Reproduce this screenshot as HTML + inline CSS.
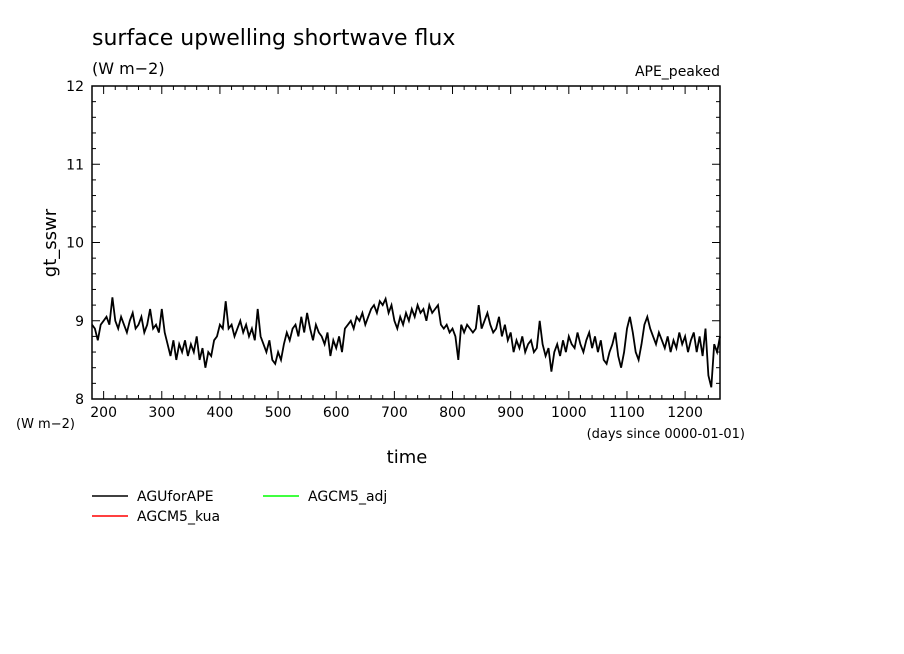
<!DOCTYPE html>
<html><head><meta charset="utf-8"><style>
body{margin:0;background:#fff}
svg{display:block;font-family:"DejaVu Sans","Liberation Sans",sans-serif}
</style></head><body>
<svg id="chart" width="904" height="654" xmlns="http://www.w3.org/2000/svg">
<rect width="904" height="654" fill="#fff"/>
<text x="92" y="45" font-size="22" fill="#000">surface upwelling shortwave flux</text>
<text x="92" y="74" font-size="16" fill="#000">(W m−2)</text>
<text x="720" y="76" font-size="14" text-anchor="end" fill="#000">APE_peaked</text>
<g id="axes"></g>
<g id="series"></g>
<text transform="translate(56,243) rotate(-90)" font-size="18" text-anchor="middle" fill="#000">gt_sswr</text>
<text x="16" y="428" font-size="13" fill="#000">(W m−2)</text>
<text x="407" y="463" font-size="18" text-anchor="middle" fill="#000">time</text>
<text x="745" y="438" font-size="13" text-anchor="end" fill="#000">(days since 0000-01-01)</text>
<g font-size="14">
<line x1="92" y1="496" x2="128" y2="496" stroke="#000" stroke-width="1.5"/>
<text x="137" y="501" fill="#000">AGUforAPE</text>
<line x1="92" y1="516" x2="128" y2="516" stroke="#f00" stroke-width="1.5"/>
<text x="137" y="521" fill="#000">AGCM5_kua</text>
<line x1="263" y1="496" x2="299" y2="496" stroke="#0f0" stroke-width="1.5"/>
<text x="308" y="501" fill="#000">AGCM5_adj</text>
</g>
</svg>
<script>
const xTicks=[200,300,400,500,600,700,800,900,1000,1100,1200];
const yTicks=[8,9,10,11,12];
const startDay=180, stepDays=5;
const values=[8.95,8.9,8.75,8.95,9.0,9.05,8.95,9.3,
9.0,8.9,9.05,8.95,8.85,9.0,9.1,8.9,8.95,9.05,8.85,8.95,9.15,8.9,8.95,8.85,
9.15,8.85,
8.7,8.55,8.75,8.5,8.7,8.6,8.75,8.55,8.7,8.6,8.8,8.5,8.65,8.4,8.6,8.55,8.75,
8.8,8.95,8.9,
9.25,
8.9,8.95,8.8,8.9,9.0,8.85,8.95,8.8,8.9,8.75,9.15,
8.8,8.7,8.6,8.75,8.5,8.45,8.6,8.5,8.7,
8.85,8.75,8.9,8.95,8.8,9.05,8.85,9.1,8.9,8.75,
8.95,8.85,8.8,8.7,8.85,8.55,8.75,8.65,8.8,8.6,8.9,8.95,
9.0,8.9,9.05,9.0,9.1,8.95,9.05,9.15,9.2,9.1,9.25,9.2,9.28,9.1,9.2,9.0,
8.9,9.05,8.95,9.1,9.0,9.15,9.05,9.2,9.1,9.15,9.0,9.2,9.1,9.15,9.2,8.95,
8.9,8.95,8.85,8.9,8.8,8.5,8.95,8.85,8.95,8.9,8.85,8.9,9.2,
8.9,9.0,9.1,8.95,8.85,8.9,9.05,8.8,8.95,8.75,8.85,
8.6,8.75,8.65,8.8,8.6,8.7,8.75,8.6,8.65,9.0,
8.7,8.55,8.65,8.35,8.6,8.7,8.55,8.75,8.6,8.8,
8.7,8.65,8.85,8.7,8.6,8.75,8.85,8.65,8.8,8.6,8.75,8.5,8.45,8.6,8.7,8.85,
8.55,8.4,8.6,8.9,9.05,
8.85,8.6,8.5,8.7,8.95,9.05,8.9,8.8,8.7,
8.85,8.75,8.65,8.8,8.6,8.75,8.65,8.85,8.7,8.8,8.6,8.75,8.85,
8.6,8.8,8.55,8.9,8.3,8.15,8.7,8.6,8.8];
const X0=92,X1=720,Y0=399,Y1=86,D0=180,D1=1260,V0=8,V1=12;
const xs=d=>X0+(d-D0)/(D1-D0)*(X1-X0);
const ys=v=>Y0-(v-V0)/(V1-V0)*(Y0-Y1);
const NS="http://www.w3.org/2000/svg";
const ax=document.getElementById('axes');
function mk(t,a,p){const e=document.createElementNS(NS,t);for(const k in a)e.setAttribute(k,a[k]);(p||ax).appendChild(e);return e;}
const frame=mk('rect',{x:X0,y:Y1,width:X1-X0,height:Y0-Y1,fill:'none',stroke:'#000','stroke-width':1.5});


for(let d=200;d<D1;d+=20){const maj=d%100===0;const L=maj?8:4;
mk('line',{x1:xs(d),x2:xs(d),y1:Y0,y2:Y0-L,stroke:'#000'});mk('line',{x1:xs(d),x2:xs(d),y1:Y1,y2:Y1+L,stroke:'#000'});}
for(let i=0;i<=20;i++){const v=8+i*0.2;const maj=i%5===0;const L=maj?8:4;
mk('line',{x1:X0,x2:X0+L,y1:ys(v),y2:ys(v),stroke:'#000'});mk('line',{x1:X1,x2:X1-L,y1:ys(v),y2:ys(v),stroke:'#000'});}
xTicks.forEach(d=>{const t=mk('text',{x:xs(d),y:Y0+18,'font-size':14,'text-anchor':'middle',fill:'#000'});t.textContent=d;

});
yTicks.forEach(v=>{const t=mk('text',{x:X0-8,y:ys(v)+5,'font-size':14,'text-anchor':'end',fill:'#000'});t.textContent=v;

});
const pts=values.map((v,i)=>xs(startDay+i*stepDays).toFixed(1)+','+ys(v).toFixed(1)).join(' ');
const pl=mk('polyline',{points:pts,fill:'none',stroke:'#000','stroke-width':1.8},document.getElementById('series'));


</script>
</body></html>
